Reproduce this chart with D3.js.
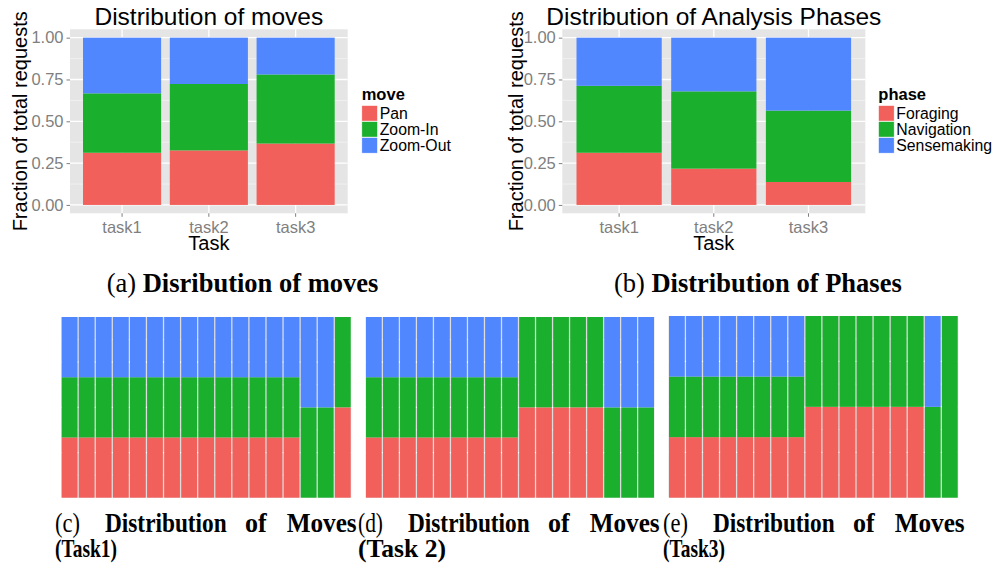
<!DOCTYPE html>
<html>
<head>
<meta charset="utf-8">
<script src="https://cdn.jsdelivr.net/npm/d3@7"></script>
<style>
  html, body { margin: 0; padding: 0; background: #fff; }
  svg { display: block; }
</style>
</head>
<body>
<svg id="fig" width="995" height="569"></svg>
<script>
// ---- data -------------------------------------------------------------
const tasks = ["task1", "task2", "task3"];
const yTicks = [0, 0.25, 0.5, 0.75, 1];
const yMinorTicks = [0.125, 0.375, 0.625, 0.875];

// (a) share of each move type per task
const moveNames = ["Pan", "Zoom-In", "Zoom-Out"];
const movePan = [0.312, 0.326, 0.367];
const moveZoomIn = [0.355, 0.397, 0.413];
const moveZoomOut = [0.333, 0.277, 0.220];

// (b) share of each analysis phase per task
const phaseNames = ["Foraging", "Navigation", "Sensemaking"];
const phaseForaging = [0.312, 0.217, 0.137];
const phaseNavigation = [0.400, 0.462, 0.427];
const phaseSensemaking = [0.288, 0.321, 0.436];

// (c)-(e) per-sequence move counts: [Pan, Zoom-In, Zoom-Out]
const task1Columns = [
  [1,1,1],[1,1,1],[1,1,1],[1,1,1],[1,1,1],[1,1,1],[1,1,1],[1,1,1],[1,1,1],
  [1,1,1],[1,1,1],[1,1,1],[1,1,1],[1,1,1],[0,1,1],[0,1,1],[1,1,0]
];
const task2Columns = [
  [1,1,1],[1,1,1],[1,1,1],[1,1,1],[1,1,1],[1,1,1],[1,1,1],[1,1,1],[1,1,1],
  [1,1,0],[1,1,0],[1,1,0],[1,1,0],[1,1,0],[0,1,1],[0,1,1],[0,1,1]
];
const task3Columns = [
  [1,1,1],[1,1,1],[1,1,1],[1,1,1],[1,1,1],[1,1,1],[1,1,1],[1,1,1],
  [1,1,0],[1,1,0],[1,1,0],[1,1,0],[1,1,0],[1,1,0],[1,1,0],[0,1,1],[0,1,0]
];

// ---- styles -----------------------------------------------------------
const fillColors = ["#F2605B", "#1AAF2D", "#5087FF"];
const SANS = "'Liberation Sans', Arial, Helvetica, sans-serif";
const SERIF = "'Liberation Serif', 'Times New Roman', Times, serif";
const PANEL_BG = "#E5E5E5";
const GRID_MINOR = "#F2F2F2";
const AXIS_GREY = "#7F7F7F";

const svg = d3.select("#fig");

// ---- stacked proportion bar chart (top row) -----------------------------
function topChart(opt) {
  const g = svg.append("g");
  const rows = tasks.map((t, i) => {
    const r = { task: t };
    opt.names.forEach((n, k) => { r[n] = opt.series[k][i]; });
    return r;
  });
  const stacked = d3.stack().keys(opt.names)(rows);

  const x = d3.scaleBand().domain(tasks)
    .range([opt.x0, opt.x1]).paddingInner(0.1).paddingOuter(0.15);
  const y = d3.scaleLinear().domain([-0.05, 1.05]).range([opt.y1, opt.y0]);

  // panel background + grid
  g.append("rect").attr("x", opt.x0).attr("y", opt.y0)
    .attr("width", opt.x1 - opt.x0).attr("height", opt.y1 - opt.y0)
    .attr("fill", PANEL_BG);
  g.selectAll(".minor").data(yMinorTicks).join("line")
    .attr("x1", opt.x0).attr("x2", opt.x1)
    .attr("y1", d => y(d)).attr("y2", d => y(d))
    .attr("stroke", GRID_MINOR).attr("stroke-width", 0.8);
  g.selectAll(".major").data(yTicks).join("line")
    .attr("x1", opt.x0).attr("x2", opt.x1)
    .attr("y1", d => y(d)).attr("y2", d => y(d))
    .attr("stroke", "#fff").attr("stroke-width", 1.3);
  g.selectAll(".vmajor").data(tasks).join("line")
    .attr("x1", d => x(d) + x.bandwidth() / 2).attr("x2", d => x(d) + x.bandwidth() / 2)
    .attr("y1", opt.y0).attr("y2", opt.y1)
    .attr("stroke", "#fff").attr("stroke-width", 1.3);

  // bars
  stacked.forEach((layer, k) => {
    g.append("g").selectAll("rect").data(layer).join("rect")
      .attr("x", d => x(d.data.task))
      .attr("width", x.bandwidth())
      .attr("y", d => y(d[1]))
      .attr("height", d => y(d[0]) - y(d[1]))
      .attr("fill", fillColors[k]);
  });

  // axes
  const ay = g.append("g").attr("transform", `translate(${opt.x0},0)`)
    .call(d3.axisLeft(y).tickValues(yTicks).tickFormat(d3.format(".2f"))
      .tickSize(3.5).tickPadding(3));
  const ax = g.append("g").attr("transform", `translate(0,${opt.y1})`)
    .call(d3.axisBottom(x).tickSize(3.5).tickPadding(4.5));
  [ay, ax].forEach(a => {
    a.select(".domain").remove();
    a.selectAll(".tick line").attr("stroke", AXIS_GREY).attr("stroke-width", 1);
    a.selectAll(".tick text").attr("fill", AXIS_GREY)
      .attr("font-family", SANS).attr("font-size", 16.5);
  });

  const cx = (opt.x0 + opt.x1) / 2;
  // title
  g.append("text").attr("x", cx).attr("y", 25)
    .attr("text-anchor", "middle").attr("font-family", SANS)
    .attr("font-size", 24.5).attr("fill", "#000").text(opt.title);
  // axis titles
  g.append("text").attr("x", cx).attr("y", 249.5)
    .attr("text-anchor", "middle").attr("font-family", SANS)
    .attr("font-size", 20).attr("fill", "#000").text("Task");
  g.append("text")
    .attr("transform", `translate(${opt.yTitleX},${(opt.y0 + opt.y1) / 2}) rotate(-90)`)
    .attr("text-anchor", "middle").attr("font-family", SANS)
    .attr("font-size", 20).attr("fill", "#000").text("Fraction of total requests");

  // legend
  const lg = g.append("g").attr("transform", `translate(${opt.legendX},0)`);
  lg.append("text").attr("x", 0).attr("y", 100)
    .attr("font-family", SANS).attr("font-weight", "bold")
    .attr("font-size", 16.5).text(opt.legendTitle);
  opt.names.forEach((n, k) => {
    const top = 105.3 + k * 16;
    lg.append("rect").attr("x", 0).attr("y", top).attr("width", 16).attr("height", 16)
      .attr("fill", fillColors[k]).attr("stroke", "#fff").attr("stroke-width", 0.8);
    lg.append("text").attr("x", 18).attr("y", top + 14)
      .attr("font-family", SANS).attr("font-size", 15.8).text(n);
  });
}

topChart({
  x0: 70, x1: 347.7, y0: 29.3, y1: 213.3, yTitleX: 26.5, legendX: 361.7,
  title: "Distribution of moves", legendTitle: "move",
  names: moveNames, series: [movePan, moveZoomIn, moveZoomOut]
});
topChart({
  x0: 562.3, x1: 865.3, y0: 29.3, y1: 213.3, yTitleX: 523, legendX: 878.3,
  title: "Distribution of Analysis Phases", legendTitle: "phase",
  names: phaseNames, series: [phaseForaging, phaseNavigation, phaseSensemaking]
});

// ---- per-sequence mosaic panels (bottom row) -----------------------------
function movePanel(columns, x0, x1, y0, y1) {
  const g = svg.append("g");
  const rows = columns.map((c, i) => ({ idx: i, 0: c[0], 1: c[1], 2: c[2] }));
  const stacked = d3.stack().keys([0, 1, 2]).offset(d3.stackOffsetExpand)(rows);
  const x = d3.scaleBand().domain(d3.range(columns.length))
    .range([x0, x1]).paddingInner(0.075).paddingOuter(0);
  const y = d3.scaleLinear().domain([0, 1]).range([y1, y0]);

  g.append("rect").attr("x", x0 - 0.5).attr("y", y0)
    .attr("width", x1 - x0 + 1).attr("height", y1 - y0).attr("fill", "#DCDCDC");
  g.selectAll(".minor").data(yMinorTicks).join("line")
    .attr("x1", x0 - 0.5).attr("x2", x1 + 0.5)
    .attr("y1", d => y(d)).attr("y2", d => y(d)).attr("stroke", "#EEEEEE");
  g.selectAll(".major").data([0.25, 0.5, 0.75]).join("line")
    .attr("x1", x0 - 0.5).attr("x2", x1 + 0.5)
    .attr("y1", d => y(d)).attr("y2", d => y(d)).attr("stroke", "#fff").attr("stroke-width", 1.3);

  stacked.forEach((layer, k) => {
    g.append("g").selectAll("rect").data(layer.filter(d => d[1] > d[0])).join("rect")
      .attr("x", d => x(d.data.idx))
      .attr("width", x.bandwidth())
      .attr("y", d => y(d[1]))
      .attr("height", d => y(d[0]) - y(d[1]))
      .attr("fill", fillColors[k]);
  });
}

movePanel(task1Columns, 61.7, 350.7, 317, 497.7);
movePanel(task2Columns, 366, 654, 317, 497.7);
movePanel(task3Columns, 669, 957.7, 316, 497.7);

// ---- sub-figure captions -------------------------------------------------
function centeredCaption(cx, y, label, rest) {
  const t = svg.append("text").attr("x", cx).attr("y", y)
    .attr("text-anchor", "middle").attr("font-family", SERIF)
    .attr("font-size", 26.5).attr("fill", "#000");
  t.append("tspan").text(label + " ");
  t.append("tspan").attr("font-weight", "bold").text(rest);
}
centeredCaption(242.5, 291.7, "(a)", "Disribution of moves");
centeredCaption(757.8, 291.7, "(b)", "Distribution of Phases");

// justified two-line captions; each word is fitted into its slot of the line
const wordSlots = [[0, 25], [50, 171.7], [190, 211.7], [231.7, 301.7]];
function justifiedCaption(x0, label, words, second, secondWidth) {
  const y1 = 531.7, y2 = 556.7;
  const items = [{ t: label, bold: false }].concat(words.map(w => ({ t: w, bold: true })));
  items.forEach((it, i) => {
    const [a, b] = wordSlots[i];
    svg.append("text").attr("x", x0 + a).attr("y", y1)
      .attr("font-family", SERIF).attr("font-size", 28)
      .attr("font-weight", it.bold ? "bold" : "normal").attr("fill", "#000")
      .attr("textLength", b - a).attr("lengthAdjust", "spacingAndGlyphs")
      .text(it.t);
  });
  svg.append("text").attr("x", x0).attr("y", y2)
    .attr("font-family", SERIF).attr("font-size", 25.5)
    .attr("font-weight", "bold").attr("fill", "#000")
    .attr("textLength", secondWidth).attr("lengthAdjust", "spacingAndGlyphs")
    .text(second);
}
justifiedCaption(55, "(c)", ["Distribution", "of", "Moves"], "(Task1)", 62);
justifiedCaption(358, "(d)", ["Distribution", "of", "Moves"], "(Task 2)", 88);
justifiedCaption(663, "(e)", ["Distribution", "of", "Moves"], "(Task3)", 62);
</script>
</body>
</html>
